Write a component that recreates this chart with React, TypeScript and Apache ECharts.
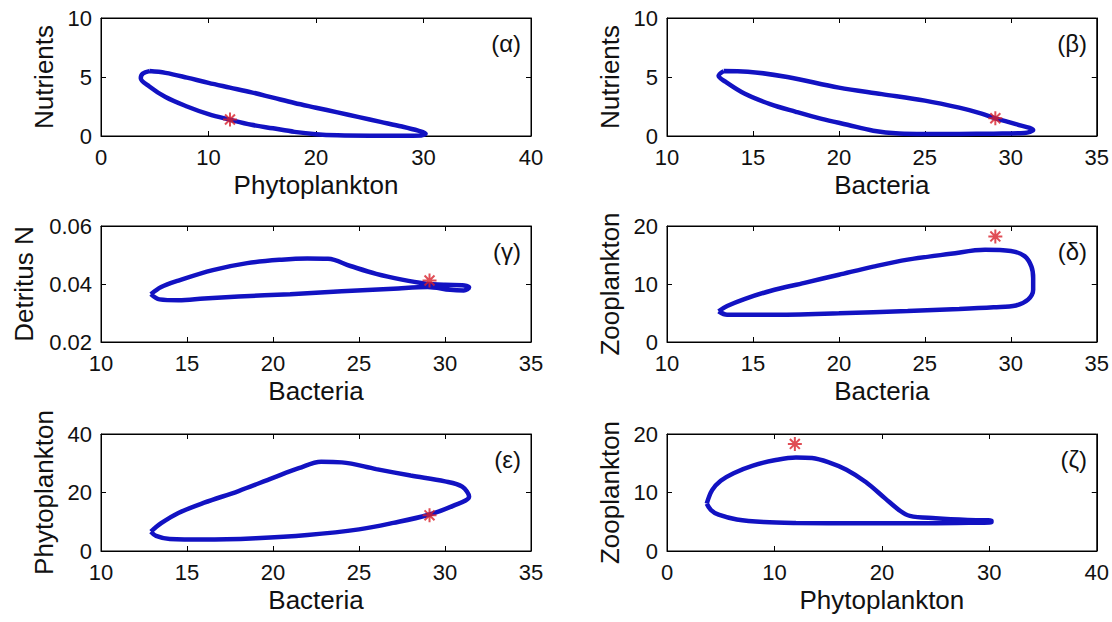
import React, { useEffect, useRef } from "react";
import * as echarts from "echarts";

// ---- tick sets ----
const phytoTicks = [0, 10, 20, 30, 40];
const bacteriaTicks = [10, 15, 20, 25, 30, 35];
const nutrientTicks = [0, 5, 10];
const detritusTicks = [0.02, 0.04, 0.06];
const zooTicks = [0, 10, 20];
const phytoYTicks = [0, 20, 40];

// ---- trajectories ----
const alphaCurve = [
  [4.5, 5.5], [6, 5.35], [8, 4.95], [10, 4.5], [12, 4.1], [14, 3.7], [16, 3.25], [18, 2.8],
  [20, 2.4], [22, 2.0], [24, 1.6], [26, 1.2], [28, 0.8], [29.5, 0.45], [30.2, 0.2], [29.8, 0.05],
  [28, 0.03], [25, 0.03], [22, 0.06], [20, 0.15], [18, 0.35], [16, 0.65], [14, 0.95], [12, 1.38],
  [10, 1.85], [8, 2.5], [6, 3.3], [4.5, 4.2], [3.7, 4.9], [3.9, 5.3], [4.5, 5.5],
];
const alphaStar = [[12, 1.4]];

const betaCurve = [
  [13.3, 5.5], [14.7, 5.45], [17, 5.0], [20, 4.1], [22.5, 3.55], [25, 3.0], [27, 2.4], [28.3, 1.9],
  [29.1, 1.5], [30.3, 1.0], [31.3, 0.5], [30.8, 0.25], [29, 0.2], [27, 0.18], [25, 0.18],
  [23.5, 0.22], [22, 0.45], [20.5, 0.95], [19, 1.45], [17.5, 2.05], [16, 2.7], [14.5, 3.6],
  [13.4, 4.6], [13.0, 5.1], [13.3, 5.5],
];
const betaStar = [[29.1, 1.5]];

const gammaCurve = [
  [12.9, 0.0365], [13.5, 0.039], [14.5, 0.0412], [16.5, 0.0448], [18.5, 0.0472], [20.5, 0.0484],
  [22, 0.0488], [23.2, 0.0487], [24.5, 0.0462], [26, 0.0435], [27.5, 0.0415], [28.8, 0.0402],
  [30, 0.0397], [31, 0.0396], [31.4, 0.0388], [31.1, 0.0378], [30.3, 0.038], [29, 0.039],
  [27, 0.0384], [24, 0.0375], [21, 0.0365], [18, 0.0357], [16, 0.035], [14.5, 0.0344],
  [13.4, 0.0347], [12.9, 0.0365],
];
const gammaStar = [[29.1, 0.0412]];

const deltaCurve = [
  [13.0, 5.3], [13.5, 4.7], [16, 4.7], [20, 4.95], [24, 5.35], [27, 5.7], [29, 6.0], [30.3, 6.3],
  [31, 7.3], [31.3, 9], [31.3, 11], [31.2, 13], [30.8, 14.8], [30, 15.7], [28.5, 15.9],
  [26.5, 15.2], [24, 14.2], [22, 13], [20, 11.6], [18, 10.2], [16, 8.8], [14.5, 7.4],
  [13.5, 6.2], [13.0, 5.3],
];
const deltaStar = [[29.1, 18.2]];

const epsilonCurve = [
  [12.9, 6.6], [13.5, 9.5], [14.5, 13], [16, 16.5], [18, 20.5], [20, 25], [21.5, 28.3],
  [22.8, 30.5], [24, 30.3], [26, 28], [28, 25.8], [30, 23.8], [31, 22], [31.4, 18.6],
  [30.5, 15.5], [29, 12.3], [27, 9.6], [25, 7.4], [22, 5.5], [19, 4.4], [16, 3.9], [14, 4.1],
  [13.2, 5.2], [12.9, 6.6],
];
const epsilonStar = [[29.1, 12.2]];

const zetaCurve = [
  [3.7, 8.1], [4.2, 10.4], [5, 12], [6.2, 13.3], [8, 14.6], [10, 15.5], [12, 16], [13.5, 15.9],
  [15, 15.2], [16.7, 13.9], [18.5, 11.8], [20.3, 9.0], [21.6, 7.0], [22.6, 6.0], [25, 5.6],
  [28, 5.3], [30.2, 5.2], [30.2, 4.9], [27, 4.8], [23, 4.75], [18, 4.75], [12, 4.8], [9, 4.95],
  [6.5, 5.4], [4.8, 6.2], [4.1, 7], [3.7, 8.1],
];
const zetaStar = [[11.9, 18.3]];

const panelTags = ["(α)", "(β)", "(γ)", "(δ)", "(ε)", "(ζ)"];
const xNames = ["Phytoplankton", "Bacteria", "Bacteria", "Bacteria", "Bacteria", "Phytoplankton"];
const yNames = ["Nutrients", "Nutrients", "Detritus N", "Zooplankton", "Phytoplankton", "Zooplankton"];
const xTickSets = [phytoTicks, bacteriaTicks, bacteriaTicks, bacteriaTicks, bacteriaTicks, phytoTicks];
const yTickSets = [nutrientTicks, nutrientTicks, detritusTicks, zooTicks, phytoYTicks, zooTicks];
const curves = [alphaCurve, betaCurve, gammaCurve, deltaCurve, epsilonCurve, zetaCurve];
const starPoints = [alphaStar, betaStar, gammaStar, deltaStar, epsilonStar, zetaStar];

// ---- layout ----
const COL_LEFT = [101, 667];
const ROW_TOP = [18, 226, 434];
const ROW_H = [118, 116, 117];
const BOX_W = 430;

const BLUE = "#1212c2";
const RED = "#d8202a";
const TICK_FONT = "'Liberation Sans', Arial, sans-serif";
const NAME_FONT = "'Liberation Sans', Arial, sans-serif";
const STAR_PATH =
  "path://M10,0L10,20M0,10L20,10M2.9,2.9L17.1,17.1M2.9,17.1L17.1,2.9";

export default function App() {
  const ref = useRef<HTMLDivElement>(null);
  useEffect(() => {
    if (!ref.current) return;
    const chart = echarts.init(ref.current, undefined, { renderer: "svg" });
    const grids: any[] = [];
    const xAxes: any[] = [];
    const yAxes: any[] = [];
    const series: any[] = [];
    const graphics: any[] = [];
    for (let i = 0; i < 6; i++) {
      const r = Math.floor(i / 2);
      const c = i % 2;
      const left = COL_LEFT[c];
      const top = ROW_TOP[r];
      const h = ROW_H[r];
      grids.push({ left, top, width: BOX_W, height: h, show: true, borderColor: "#000", borderWidth: 1, backgroundColor: "#fff" });
      const xt = xTickSets[i];
      const yt = yTickSets[i];
      const xBase = {
        type: "value",
        gridIndex: i,
        min: xt[0],
        max: xt[xt.length - 1],
        interval: xt[1] - xt[0],
        splitLine: { show: false },
        axisLine: { show: true, onZero: false, lineStyle: { color: "#000", width: 1 } },
        axisTick: { show: true, inside: true, length: 5, lineStyle: { color: "#000" } },
      };
      const yBase = {
        type: "value",
        gridIndex: i,
        min: yt[0],
        max: yt[yt.length - 1],
        interval: +(yt[1] - yt[0]).toFixed(4),
        splitLine: { show: false },
        axisLine: { show: true, onZero: false, lineStyle: { color: "#000", width: 1 } },
        axisTick: { show: true, inside: true, length: 5, lineStyle: { color: "#000" } },
      };
      const isDetritus = i === 2;
      xAxes.push({
        ...xBase,
        position: "bottom",
        name: xNames[i],
        nameLocation: "middle",
        nameGap: 36,
        nameTextStyle: { fontSize: 26, fontFamily: NAME_FONT, color: "#111" },
        axisLabel: { show: true, margin: 10, fontSize: 22, fontFamily: TICK_FONT, color: "#111" },
      });
      xAxes.push({ ...xBase, position: "top", axisLabel: { show: false } });
      yAxes.push({
        ...yBase,
        position: "left",
        name: yNames[i],
        nameLocation: "middle",
        nameGap: isDetritus ? 64 : 44,
        nameTextStyle: { fontSize: 26, fontFamily: NAME_FONT, color: "#111" },
        axisLabel: {
          show: true,
          margin: 9,
          fontSize: 22,
          fontFamily: TICK_FONT,
          color: "#111",
          formatter: isDetritus ? (v: number) => v.toFixed(2) : undefined,
        },
      });
      yAxes.push({ ...yBase, position: "right", axisLabel: { show: false } });
      series.push({
        type: "line",
        xAxisIndex: i * 2,
        yAxisIndex: i * 2,
        data: curves[i],
        showSymbol: false,
        smooth: 0.35,
        lineStyle: { color: BLUE, width: 4.5 },
        z: 2,
      });
      series.push({
        type: "scatter",
        xAxisIndex: i * 2,
        yAxisIndex: i * 2,
        data: starPoints[i],
        symbol: STAR_PATH,
        symbolSize: 14,
        itemStyle: { color: "rgba(0,0,0,0)", borderColor: RED, borderWidth: 2 },
        z: 5,
      });
      graphics.push({
        type: "text",
        x: left + BOX_W - 10,
        y: top + 25,
        style: {
          text: panelTags[i],
          font: "24px " + TICK_FONT,
          fill: "#111",
          textAlign: "right",
          textVerticalAlign: "middle",
        },
        z: 10,
      });
    }
    chart.setOption({
      animation: false,
      backgroundColor: "#fff",
      grid: grids,
      xAxis: xAxes,
      yAxis: yAxes,
      series,
      graphic: graphics,
    });
    return () => chart.dispose();
  }, []);
  return (
    <div
      ref={ref}
      style={{ position: "fixed", left: 0, top: 0, width: 1112, height: 622, background: "#fff" }}
    />
  );
}
